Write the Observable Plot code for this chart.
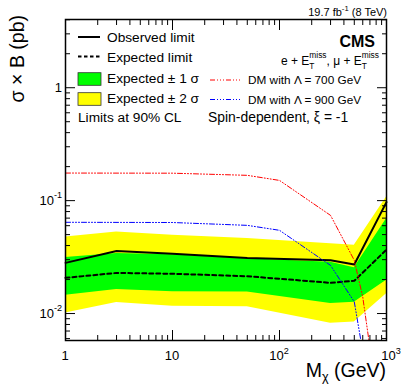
<!DOCTYPE html>
<html><head><meta charset="utf-8">
<script src="https://cdn.jsdelivr.net/npm/d3@7"></script>
<script src="https://cdn.jsdelivr.net/npm/@observablehq/plot@0.6"></script>
<style>body{margin:0;background:#fff;}</style>
</head><body><div id="chart"></div>
<script>
// ---- data ----
const mass       = [1, 3, 10, 50, 300, 500, 1000];
const observed   = [0.0281, 0.0358, 0.0338, 0.0310, 0.0296, 0.0272, 0.097];
const expected   = [0.0207, 0.0229, 0.0225, 0.0214, 0.0187, 0.0195, 0.0368];
const sigma1Low  = [0.0145, 0.0163, 0.0156, 0.0155, 0.0123, 0.0126, 0.0197];
const sigma1High = [0.0313, 0.0340, 0.0332, 0.0305, 0.0284, 0.0255, 0.069];
const sigma2Low  = [0.0101, 0.0125, 0.0116, 0.0115, 0.0082, 0.0084, 0.0150];
const sigma2High = [0.0476, 0.0527, 0.0493, 0.0461, 0.0416, 0.0402, 0.1076];

const dm700Mass   = [1, 10, 50, 100, 300, 500, 600, 700];
const dm700Values = [0.1755, 0.175, 0.1675, 0.151, 0.074, 0.0296, 0.014, 0.005];
const dm900Mass   = [1, 10, 50, 100, 300, 500, 600];
const dm900Values = [0.0643, 0.0640, 0.0604, 0.0546, 0.0267, 0.0127, 0.0046];

const xMajor = [1, 10, 100, 1000];
const xMajorLabels = [["1"], ["10"], ["10", "2"], ["10", "3"]];
const xMinor = [2,3,4,5,6,7,8,9,20,30,40,50,60,70,80,90,200,300,400,500,600,700,800,900];
const yMajor = [0.01, 0.1, 1];
const yMajorLabels = [["10", "-2"], ["10", "-1"], ["1"]];
const yMinor = [0.006,0.007,0.008,0.009,0.02,0.03,0.04,0.05,0.06,0.07,0.08,0.09,0.2,0.3,0.4,0.5,0.6,0.7,0.8,0.9,2,3,4];

// ---- tables ----
const bands = mass.map((m, i) => ({m, obs: observed[i], exp: expected[i],
  l1: sigma1Low[i], h1: sigma1High[i], l2: sigma2Low[i], h2: sigma2High[i]}));
const dm700 = dm700Mass.map((m, i) => ({m, v: dm700Values[i]}));
const dm900 = dm900Mass.map((m, i) => ({m, v: dm900Values[i]}));

const FONT = '"Liberation Sans", Arial, Helvetica, sans-serif';
const blank = () => "";
const dmDash = "5,2,1,2,1,2,1,2";

const plot = Plot.plot({
  width: 407, height: 391,
  marginLeft: 65, marginRight: 21, marginTop: 19, marginBottom: 51,
  style: {fontFamily: FONT, background: "white", overflow: "visible"},
  x: {type: "log", domain: [1, 1000]},
  y: {type: "log", domain: [0.00577, 4.02]},
  marks: [
    Plot.areaY(bands, {x: "m", y1: "l2", y2: "h2", fill: "#ffff00"}),
    Plot.areaY(bands, {x: "m", y1: "l1", y2: "h1", fill: "#00ff00"}),
    Plot.line(bands, {x: "m", y: "exp", stroke: "black", strokeWidth: 2, strokeDasharray: "4,3"}),
    Plot.line(bands, {x: "m", y: "obs", stroke: "black", strokeWidth: 2}),
    Plot.line(dm700, {x: "m", y: "v", stroke: "#ff0000", strokeWidth: 1, strokeDasharray: dmDash, clip: true}),
    Plot.line(dm900, {x: "m", y: "v", stroke: "#0000ff", strokeWidth: 1, strokeDasharray: dmDash, clip: true}),
    Plot.axisX({anchor: "bottom", ticks: xMajor, tickSize: -10, tickFormat: blank, label: null}),
    Plot.axisX({anchor: "bottom", ticks: xMinor, tickSize: -5, tickFormat: blank, label: null}),
    Plot.axisX({anchor: "top", ticks: xMajor, tickSize: -10, tickFormat: blank, label: null}),
    Plot.axisX({anchor: "top", ticks: xMinor, tickSize: -5, tickFormat: blank, label: null}),
    Plot.axisY({anchor: "left", ticks: yMajor, tickSize: -10, tickFormat: blank, label: null}),
    Plot.axisY({anchor: "left", ticks: yMinor, tickSize: -5, tickFormat: blank, label: null}),
    Plot.axisY({anchor: "right", ticks: yMajor, tickSize: -10, tickFormat: blank, label: null}),
    Plot.axisY({anchor: "right", ticks: yMinor, tickSize: -5, tickFormat: blank, label: null}),
    Plot.frame({stroke: "black", strokeWidth: 1.5})
  ]
});
document.getElementById("chart").appendChild(plot);

const xs = plot.scale("x"), ys = plot.scale("y");
const svg = d3.select(plot);
const over = svg.append("g").attr("font-family", FONT).attr("fill", "black")
  .attr("text-anchor", "start").style("text-anchor", "start");

// rich text helper: parts = strings or {sup, sub}
function rich(g, x, y, parts, {size = 13, anchor = "start", weight = "normal", subScale = 0.7, supShift = 0.45, subShift = 0.3} = {}) {
  const grp = g.append("g");
  let cur = 0;
  for (const p of parts) {
    if (typeof p === "string") {
      const t = grp.append("text").attr("x", cur).attr("y", 0).attr("font-size", size)
        .attr("font-weight", weight).attr("text-anchor", "start").style("white-space", "pre").text(p);
      cur += t.node().getComputedTextLength();
    } else {
      let w = 0;
      if (p.sup) {
        const t = grp.append("text").attr("x", cur).attr("y", -supShift * size).attr("text-anchor", "start")
          .attr("font-size", size * subScale).text(p.sup);
        w = Math.max(w, t.node().getComputedTextLength());
      }
      if (p.sub) {
        const t = grp.append("text").attr("x", cur).attr("y", subShift * size).attr("text-anchor", "start")
          .attr("font-size", size * subScale).text(p.sub);
        w = Math.max(w, t.node().getComputedTextLength());
      }
      cur += w;
    }
  }
  const off = anchor === "end" ? -cur : anchor === "middle" ? -cur / 2 : 0;
  grp.attr("transform", `translate(${x + off},${y})`);
  return grp;
}

// tick labels
xMajor.forEach((v, i) => {
  const lab = xMajorLabels[i];
  const parts = lab.length > 1 ? [lab[0], {sup: lab[1]}] : [lab[0]];
  const dx = v === 1000 ? 5 : 0;
  rich(over, xs.apply(v) + dx, 359.5, parts, {size: 13, anchor: "middle", supShift: 0.45});
});
yMajor.forEach((v, i) => {
  const lab = yMajorLabels[i];
  const parts = lab.length > 1 ? [lab[0], {sup: lab[1]}] : [lab[0]];
  rich(over, 62, ys.apply(v) + 4.6, parts, {size: 13, anchor: "end", supShift: 0.5});
});

// axis titles
over.append("text").attr("transform", "translate(24,15) rotate(-90)")
  .attr("text-anchor", "end").attr("font-size", 19.5).text("σ × B (pb)");
rich(over, 386, 376.5, ["M", {sub: "χ"}, " (GeV)"], {size: 19.5, anchor: "end", subScale: 0.65, subShift: 0.25});

// top-right lumi
rich(over, 387, 15.5, ["19.7 fb", {sup: "-1"}, " (8 TeV)"], {size: 11, anchor: "end", supShift: 0.4});

// CMS & channel labels
over.append("text").attr("x", 375).attr("y", 46.5).attr("text-anchor", "end")
  .attr("font-size", 16).attr("font-weight", "bold").text("CMS");
rich(over, 379, 65, ["e + E", {sup: "miss", sub: "T"}, ", μ + E", {sup: "miss", sub: "T"}],
  {size: 12, anchor: "end", subScale: 0.7, supShift: 0.55, subShift: 0.3});

// legend (left)
const L = over.append("g");
L.append("line").attr("x1", 78).attr("x2", 100).attr("y1", 37).attr("y2", 37)
  .attr("stroke", "black").attr("stroke-width", 2);
L.append("line").attr("x1", 78).attr("x2", 100).attr("y1", 56.5).attr("y2", 56.5)
  .attr("stroke", "black").attr("stroke-width", 2).attr("stroke-dasharray", "3.5,2.5");
L.append("rect").attr("x", 78).attr("y", 72.7).attr("width", 23).attr("height", 12.6)
  .attr("fill", "#00ff00").attr("stroke", "#333").attr("stroke-width", 0.8);
L.append("rect").attr("x", 78).attr("y", 92.7).attr("width", 23).attr("height", 12.6)
  .attr("fill", "#ffff00").attr("stroke", "#333").attr("stroke-width", 0.8);
const legendText = ["Observed limit", "Expected limit", "Expected ± 1 σ", "Expected ± 2 σ"];
const legendY = [42.2, 61.8, 83.2, 103.2];
legendText.forEach((t, i) => L.append("text").attr("x", 107).attr("y", legendY[i])
  .attr("font-size", 13.7).text(t));
L.append("text").attr("x", 78).attr("y", 122.2).attr("font-size", 13.7).text("Limits at 90% CL");

// legend (right, DM)
L.append("line").attr("x1", 210).attr("x2", 241).attr("y1", 80).attr("y2", 80)
  .attr("stroke", "#ff0000").attr("stroke-width", 1).attr("stroke-dasharray", dmDash);
L.append("line").attr("x1", 210).attr("x2", 241).attr("y1", 99.5).attr("y2", 99.5)
  .attr("stroke", "#0000ff").attr("stroke-width", 1).attr("stroke-dasharray", dmDash);
L.append("text").attr("x", 248).attr("y", 84.2).attr("font-size", 11.8).text("DM with Λ = 700 GeV");
L.append("text").attr("x", 248).attr("y", 103.7).attr("font-size", 11.8).text("DM with Λ = 900 GeV");
L.append("text").attr("x", 208).attr("y", 121.8).attr("font-size", 13.9).text("Spin-dependent, ξ = -1");
</script>
</body></html>
